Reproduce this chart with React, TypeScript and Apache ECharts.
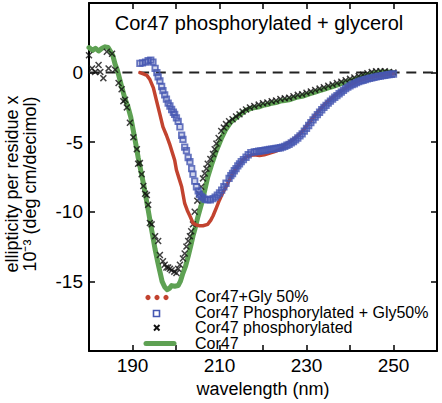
import React, { useEffect, useRef } from 'react';
import * as echarts from 'echarts';

const FONT = '"Liberation Sans", Arial, Helvetica, sans-serif';

const titleText = 'Cor47 phosphorylated + glycerol';
const xAxisTitle = 'wavelength (nm)';
const yAxisTitleLines = ['ellipticity per residue x', '10⁻³ (deg cm/decimol)'];
const xTickLabels = [190, 210, 230, 250];
const yTickLabels = [-15, -10, -5, 0];
const legendNames = ['Cor47+Gly 50%', 'Cor47 Phosphorylated + Gly50%', 'Cor47 phosphorylated', 'Cor47'];
const zeroLine: [number, number][] = [[180, 0], [260, 0]];

const RED = '#c2432f';
const BLUE = '#4658b2';
const GREEN = '#5ea153';
const BLACK = '#111111';

// Cor47 (green line): [wavelength nm, ellipticity]
const cor47: [number, number][] = [
  [180.0, 1.8], [180.8, 1.6], [181.5, 1.75], [182.2, 1.55], [183.0, 1.75], [183.7, 1.85], [184.4, 1.8],
  [185.0, 1.5], [185.5, 1.2], [186.0, 0.6], [186.5, 0.2], [187.0, -0.4], [187.5, -1.0], [188.3, -1.9],
  [189.0, -2.5], [189.6, -3.2], [190.2, -4.2], [190.8, -5.2], [191.3, -6.1], [192.0, -7.2], [192.5, -7.95],
  [193.0, -8.8], [193.6, -9.86], [194.4, -11.3], [195.2, -12.7], [195.8, -13.6], [196.3, -14.3], [196.8, -15.0],
  [197.4, -15.4], [198.0, -15.6], [198.5, -15.5], [199.0, -15.3], [199.7, -15.35], [200.5, -15.3], [201.0, -15.0],
  [201.6, -14.4], [202.2, -13.9], [202.8, -13.2], [203.5, -12.3], [203.9, -11.75], [204.3, -11.3], [205.0, -10.4],
  [205.8, -9.5], [206.5, -8.6], [207.3, -7.5], [208.3, -6.5], [209.3, -5.6], [210.4, -4.75], [211.5, -4.05],
  [212.6, -3.55], [213.8, -3.25], [215.0, -2.95], [216.1, -2.7], [217.5, -2.55], [219.2, -2.45], [220, -2.35],
  [221, -2.3], [222, -2.2], [223, -2.15], [224, -2.05], [225, -2.0], [226, -1.95], [227, -1.85], [228, -1.75],
  [229, -1.7], [230, -1.6], [231, -1.5], [232, -1.4], [233, -1.3], [234, -1.2], [235, -1.1], [236, -1.0],
  [237, -0.9], [238, -0.8], [239, -0.7], [240, -0.6], [241, -0.5], [242, -0.38], [243, -0.27], [244, -0.17],
  [245, -0.08], [246, 0.0], [247, 0.05], [248, 0.05], [249, 0.05], [250, 0.0],
];

// Cor47 phosphorylated (black x markers)
const cor47Phos: [number, number][] = [
  [180.0, 1.25], [180.7, 0.3], [181.4, 0.05], [182.2, 0.55], [182.6, 0.05], [183.3, -0.4], [184.1, 1.5],
  [184.5, 0.3], [185.3, 1.35], [186.0, 0.2], [186.8, -0.75], [187.5, -1.2], [187.9, -2.05], [188.3, -1.95],
  [188.7, -2.5], [189.4, -3.6], [190.2, -4.65], [191.0, -5.5], [191.3, -6.55], [191.7, -6.5], [192.1, -7.3],
  [192.5, -8.15], [192.9, -8.7], [193.3, -8.8], [193.6, -9.5], [194.0, -10.8], [194.4, -10.9], [195.2, -11.75],
  [195.9, -12.1], [196.3, -13.1], [197.0, -13.55], [197.4, -13.8], [197.8, -14.0], [198.2, -14.0], [198.6, -14.1],
  [199.0, -14.2], [199.6, -14.3], [200.1, -14.4], [200.5, -14.1], [200.9, -13.8], [201.6, -13.35], [202.0, -13.0],
  [202.4, -12.5], [202.8, -12.1], [203.2, -11.75], [203.5, -11.4], [203.9, -10.9], [204.3, -10.0], [204.9, -9.2],
  [205.3, -8.7], [205.8, -8.2], [206.2, -7.6], [206.6, -7.25], [207.0, -6.9], [207.3, -6.55], [207.9, -6.2],
  [208.5, -5.85], [208.9, -5.5], [209.3, -5.1], [209.8, -4.7], [210.4, -4.2], [211.0, -3.95], [211.5, -3.7],
  [212.2, -3.5], [213.0, -3.35], [213.8, -3.15], [214.6, -3.0], [215.3, -2.8], [216.1, -2.65], [217, -2.5],
  [218, -2.4], [219, -2.3], [220, -2.2], [221, -2.15], [222, -2.05], [223, -2.0], [224, -1.9], [225, -1.85],
  [226, -1.8], [227, -1.7], [228, -1.6], [229, -1.55], [230, -1.45], [231, -1.35], [232, -1.25], [233, -1.15],
  [234, -1.05], [235, -0.95], [236, -0.85], [237, -0.75], [238, -0.65], [239, -0.55], [240, -0.45], [241, -0.35],
  [242, -0.25], [243, -0.15], [244, -0.05], [245, 0.05], [246, 0.1], [247, 0.1], [248, 0.1], [249, 0.05], [250, 0.0],
];

// Cor47 + Gly 50% (red dots)
const cor47Gly: [number, number][] = [
  [191.7, 0.0], [192.5, -0.1], [193.3, -0.2], [194.0, -0.5], [194.8, -1.1], [195.5, -2.0], [196.3, -3.0],
  [197.0, -3.9], [197.8, -4.5], [198.5, -5.1], [199.0, -5.6], [199.7, -6.3], [200.1, -7.0], [200.7, -7.6],
  [201.3, -8.2], [202.0, -9.4], [202.6, -9.9], [203.2, -10.3], [203.9, -10.8], [204.7, -10.95], [205.4, -11.0],
  [206.2, -11.0], [207.3, -10.9], [208.0, -10.6], [208.5, -10.3], [209.3, -9.7], [210.0, -9.15], [210.8, -8.6],
  [211.5, -8.2], [212.3, -7.7], [213.0, -7.26], [214.0, -6.8], [215.3, -6.3], [216.0, -6.1], [216.9, -5.95],
  [218, -5.9], [219.2, -5.95], [220.3, -5.9], [221.4, -5.8], [222.5, -5.7], [223.7, -5.55], [224.5, -5.4],
  [225, -5.2], [226, -5.0], [227, -4.8], [228, -4.55], [229, -4.25], [230, -3.85], [231, -3.45], [232, -3.05],
  [233, -2.7], [234, -2.35], [235, -2.05], [236, -1.8], [237, -1.55], [238, -1.3], [239, -1.1], [240, -0.9],
  [241, -0.75], [242, -0.6], [243, -0.5], [244, -0.4], [245, -0.33], [246, -0.27], [247, -0.22], [248, -0.17],
  [249, -0.12], [250, -0.08],
];

// Cor47 Phosphorylated + Gly50% (blue squares)
const cor47PhosGly: [number, number][] = [
  [191.7, 0.66], [192.3, 0.7], [193.0, 0.75], [193.6, 0.85], [194.2, 0.9], [194.7, 0.75], [195.2, 0.3],
  [195.6, 0.0], [195.9, -0.3], [196.3, -0.6], [196.7, -1.0], [197.0, -1.3], [197.4, -1.6], [197.8, -1.9],
  [198.2, -2.2], [198.6, -2.4], [199.0, -2.65], [199.4, -2.85], [199.7, -3.0], [200.1, -3.25], [200.5, -3.5],
  [200.9, -3.9], [201.3, -4.5], [201.6, -4.8], [202.0, -5.35], [202.4, -5.6], [202.8, -6.1], [203.2, -6.4],
  [203.6, -6.9], [203.9, -7.3], [204.3, -7.8], [204.7, -8.2], [205.1, -8.5], [205.4, -8.75], [205.8, -8.9],
  [206.2, -9.0], [206.7, -9.1], [207.3, -9.15], [207.9, -9.15], [208.5, -9.05], [209.0, -8.95], [209.5, -8.8],
  [210.0, -8.65], [210.5, -8.45], [211.0, -8.2], [211.5, -7.95], [212.2, -7.6], [212.6, -7.4], [213.0, -7.25],
  [213.4, -7.05], [213.8, -6.9], [214.2, -6.7], [214.6, -6.55], [215.0, -6.4], [215.5, -6.25], [216.1, -6.08],
  [216.6, -5.9], [217.2, -5.75], [218, -5.7], [218.5, -5.68], [219, -5.65], [219.5, -5.62], [220, -5.6],
  [220.5, -5.58], [221, -5.55], [221.5, -5.52], [222, -5.5], [222.5, -5.48], [223, -5.45], [223.5, -5.42],
  [224, -5.4], [224.5, -5.36], [225, -5.3], [225.5, -5.22], [226, -5.15], [226.5, -5.05], [227, -4.95],
  [227.5, -4.83], [228, -4.7], [228.5, -4.55], [229, -4.4], [229.5, -4.2], [230, -4.0], [230.5, -3.8],
  [231, -3.6], [231.5, -3.4], [232, -3.2], [232.5, -3.02], [233, -2.85], [233.5, -2.67], [234, -2.5],
  [234.5, -2.35], [235, -2.2], [235.5, -2.05], [236, -1.9], [236.5, -1.77], [237, -1.65], [237.5, -1.52],
  [238, -1.4], [238.5, -1.27], [239, -1.15], [239.5, -1.05], [240, -0.95], [240.5, -0.87], [241, -0.8],
  [241.5, -0.72], [242, -0.65], [242.5, -0.6], [243, -0.55], [243.5, -0.5], [244, -0.45], [244.5, -0.41],
  [245, -0.38], [245.5, -0.34], [246, -0.3], [246.5, -0.27], [247, -0.25], [247.5, -0.22], [248, -0.2],
  [248.5, -0.17], [249, -0.15], [249.5, -0.12], [250, -0.1],
];

const X_SHAPE = 'path://M0,1.5L1.5,0L5,3.5L8.5,0L10,1.5L6.5,5L10,8.5L8.5,10L5,6.5L1.5,10L0,8.5L3.5,5Z';

export default function App() {
  const ref = useRef<HTMLDivElement>(null);
  useEffect(() => {
    if (!ref.current) return;
    const chart = echarts.init(ref.current, null, { renderer: 'svg' });
    const axisLine = { show: true, onZero: false, lineStyle: { color: '#000', width: 2 } };
    const axisTick = { show: true, inside: true, length: 6, lineStyle: { color: '#000', width: 1.5 } };
    const legendY = [296, 312, 327.5, 343];
    const legendX = 195;
    const option: any = {
      animation: false,
      backgroundColor: '#fff',
      grid: { left: 89, right: 5, top: 3, bottom: 51, containLabel: false },
      xAxis: [
        {
          type: 'value', position: 'bottom', min: 180, max: 260, interval: 10,
          axisLine, axisTick, splitLine: { show: false },
          axisLabel: {
            color: '#000', fontSize: 19, fontFamily: FONT, margin: 5,
            formatter: (v: number) => (xTickLabels.includes(v) ? String(v) : ''),
          },
          name: xAxisTitle, nameLocation: 'middle', nameGap: 29,
          nameTextStyle: { color: '#000', fontSize: 18, fontFamily: FONT },
        },
        {
          type: 'value', position: 'top', min: 180, max: 260, interval: 10,
          axisLine, axisTick, splitLine: { show: false }, axisLabel: { show: false },
        },
      ],
      yAxis: [
        {
          type: 'value', position: 'left', min: -20, max: 5, interval: 5,
          axisLine, axisTick, splitLine: { show: false },
          axisLabel: {
            color: '#000', fontSize: 19, fontFamily: FONT, margin: 6,
            formatter: (v: number) => (yTickLabels.includes(v) ? String(v) : ''),
          },
        },
        {
          type: 'value', position: 'right', min: -20, max: 5, interval: 5,
          axisLine, axisTick, splitLine: { show: false }, axisLabel: { show: false },
        },
      ],
      series: [
        {
          name: 'zero', type: 'line', data: zeroLine, showSymbol: false, symbol: 'none', z: 1, silent: true,
          lineStyle: { color: '#222', width: 2, type: [10, 6.7] },
        },
        {
          name: legendNames[3], type: 'line', data: cor47, showSymbol: false, symbol: 'none', z: 3,
          lineStyle: { color: GREEN, width: 5, cap: 'round', join: 'round' },
        },
        {
          name: legendNames[2], type: 'scatter', data: cor47Phos, symbol: X_SHAPE, symbolSize: 7, z: 4,
          itemStyle: { color: BLACK },
        },
        {
          name: legendNames[0], type: 'line', data: cor47Gly, showSymbol: false, symbol: 'none', z: 5,
          lineStyle: { color: RED, width: 3.5, cap: 'round', join: 'round' },
        },
        {
          name: legendNames[1], type: 'scatter', data: cor47PhosGly, symbol: 'rect', symbolSize: 5.5, z: 6,
          itemStyle: { color: 'rgba(70,88,178,0.3)', borderColor: BLUE, borderWidth: 1.8 },
        },
      ],
      graphic: [
        {
          type: 'text', x: 259, y: 23, z: 10,
          style: { text: titleText, fill: '#000', font: `20px ${FONT}`, textAlign: 'center', textVerticalAlign: 'middle' },
        },
        {
          type: 'text', x: 12, y: 184, rotation: Math.PI / 2, z: 10,
          style: { text: yAxisTitleLines[0], fill: '#000', font: `18px ${FONT}`, textAlign: 'center', textVerticalAlign: 'middle' },
        },
        {
          type: 'text', x: 30, y: 184, rotation: Math.PI / 2, z: 10,
          style: { text: yAxisTitleLines[1], fill: '#000', font: `18px ${FONT}`, textAlign: 'center', textVerticalAlign: 'middle' },
        },
        // legend symbols
        { type: 'circle', z: 10, shape: { cx: 148, cy: legendY[0] + 1.5, r: 2.6 }, style: { fill: RED } },
        { type: 'circle', z: 10, shape: { cx: 157, cy: legendY[0] + 1.5, r: 2.6 }, style: { fill: RED } },
        { type: 'circle', z: 10, shape: { cx: 166, cy: legendY[0] + 1.5, r: 2.6 }, style: { fill: RED } },
        { type: 'rect', z: 10, shape: { x: 153.5, y: legendY[1] - 1.5, width: 6, height: 6 }, style: { fill: '#fff', stroke: BLUE, lineWidth: 1.6 } },
        { type: 'line', z: 10, shape: { x1: 154, y1: legendY[2] - 2.5, x2: 159.5, y2: legendY[2] + 3 }, style: { stroke: BLACK, lineWidth: 2 } },
        { type: 'line', z: 10, shape: { x1: 159.5, y1: legendY[2] - 2.5, x2: 154, y2: legendY[2] + 3 }, style: { stroke: BLACK, lineWidth: 2 } },
        { type: 'line', z: 10, shape: { x1: 146, y1: legendY[3] + 0.5, x2: 174, y2: legendY[3] + 0.5 }, style: { stroke: GREEN, lineWidth: 5, lineCap: 'round' } },
        ...legendNames.map((n, i) => ({
          type: 'text', x: legendX, y: legendY[i], z: 10,
          style: { text: n, fill: '#000', font: `16px ${FONT}`, textAlign: 'left', textVerticalAlign: 'middle' },
        })),
      ],
    };
    chart.setOption(option);
    return () => chart.dispose();
  }, []);
  return (
    <div
      ref={ref}
      style={{ position: 'fixed', left: 0, top: 0, width: 442, height: 403, background: '#fff' }}
    />
  );
}
